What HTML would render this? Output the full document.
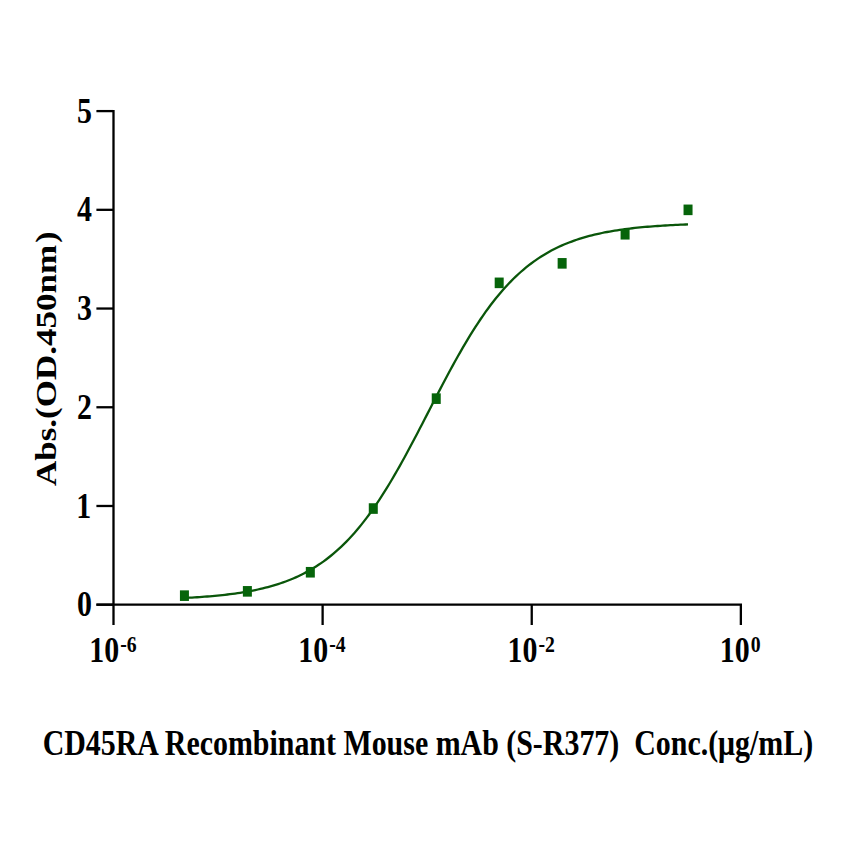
<!DOCTYPE html>
<html><head><meta charset="utf-8"><title>ELISA curve</title>
<style>
html,body{margin:0;padding:0;background:#fff;}
svg{display:block;}
text{font-family:"Liberation Serif","DejaVu Serif",serif;font-weight:bold;font-size:35.0px;fill:#000;}
</style></head><body>
<svg width="842" height="842" viewBox="0 0 842 842">
<rect width="842" height="842" fill="#fff"/>
<path d="M113.50,109.95 V625 M96.4,604.70 H742.01 M740.86,604.70 V625" stroke="#000" stroke-width="2.3" fill="none"/>
<path d="M96.4,604.70 H113.50" stroke="#000" stroke-width="2.3"/>
<path d="M96.4,505.98 H113.50" stroke="#000" stroke-width="2.3"/>
<path d="M96.4,407.26 H113.50" stroke="#000" stroke-width="2.3"/>
<path d="M96.4,308.54 H113.50" stroke="#000" stroke-width="2.3"/>
<path d="M96.4,209.82 H113.50" stroke="#000" stroke-width="2.3"/>
<path d="M96.4,111.10 H113.50" stroke="#000" stroke-width="2.3"/>
<path d="M322.62,604.70 V625" stroke="#000" stroke-width="2.3"/>
<path d="M531.74,604.70 V625" stroke="#000" stroke-width="2.3"/>
<text transform="translate(92.0,616.30) scale(0.855,1)" text-anchor="end">0</text>
<text transform="translate(91.2,517.58) scale(0.855,1)" text-anchor="end">1</text>
<text transform="translate(92.0,418.86) scale(0.855,1)" text-anchor="end">2</text>
<text transform="translate(92.0,320.14) scale(0.855,1)" text-anchor="end">3</text>
<text transform="translate(92.0,221.42) scale(0.855,1)" text-anchor="end">4</text>
<text transform="translate(92.0,122.70) scale(0.855,1)" text-anchor="end">5</text>
<text transform="translate(112.90,662) scale(0.855,1)" text-anchor="middle">10<tspan font-size="23.1" dx="1.2" dy="-10">-6</tspan></text>
<text transform="translate(322.02,662) scale(0.855,1)" text-anchor="middle">10<tspan font-size="23.1" dx="1.2" dy="-10">-4</tspan></text>
<text transform="translate(531.14,662) scale(0.855,1)" text-anchor="middle">10<tspan font-size="23.1" dx="1.2" dy="-10">-2</tspan></text>
<text transform="translate(740.26,662) scale(0.855,1)" text-anchor="middle">10<tspan font-size="23.1" dx="1.2" dy="-10">0</tspan></text>
<text transform="translate(56,486) rotate(-90) scale(1.0,0.855)">Abs.(OD.450nm<tspan dx="2">)</tspan></text>
<text transform="translate(427.9,755.2) scale(0.855,1)" text-anchor="middle" xml:space="preserve">CD45RA Recombinant Mouse mAb (S-R377)  Conc.(μg/mL)</text>
<path d="M184.43,597.97 L186.96,597.84 L189.49,597.70 L192.02,597.56 L194.55,597.40 L197.08,597.24 L199.61,597.07 L202.15,596.89 L204.68,596.70 L207.21,596.51 L209.74,596.30 L212.27,596.08 L214.80,595.85 L217.33,595.61 L219.86,595.35 L222.39,595.08 L224.92,594.80 L227.45,594.50 L229.98,594.19 L232.51,593.86 L235.04,593.52 L237.58,593.15 L240.11,592.77 L242.64,592.37 L245.17,591.95 L247.70,591.51 L250.23,591.04 L252.76,590.55 L255.29,590.04 L257.82,589.50 L260.35,588.93 L262.88,588.33 L265.41,587.71 L267.94,587.05 L270.47,586.36 L273.01,585.64 L275.54,584.88 L278.07,584.09 L280.60,583.25 L283.13,582.38 L285.66,581.46 L288.19,580.50 L290.72,579.49 L293.25,578.44 L295.78,577.33 L298.31,576.18 L300.84,574.97 L303.37,573.70 L305.90,572.38 L308.44,571.00 L310.97,569.56 L313.50,568.05 L316.03,566.47 L318.56,564.83 L321.09,563.11 L323.62,561.33 L326.15,559.46 L328.68,557.52 L331.21,555.50 L333.74,553.40 L336.27,551.21 L338.80,548.94 L341.33,546.58 L343.87,544.13 L346.40,541.59 L348.93,538.96 L351.46,536.24 L353.99,533.42 L356.52,530.50 L359.05,527.48 L361.58,524.37 L364.11,521.16 L366.64,517.85 L369.17,514.44 L371.70,510.94 L374.23,507.33 L376.76,503.63 L379.29,499.84 L381.83,495.95 L384.36,491.97 L386.89,487.90 L389.42,483.75 L391.95,479.51 L394.48,475.19 L397.01,470.80 L399.54,466.33 L402.07,461.79 L404.60,457.20 L407.13,452.54 L409.66,447.83 L412.19,443.07 L414.72,438.27 L417.26,433.44 L419.79,428.58 L422.32,423.69 L424.85,418.79 L427.38,413.88 L429.91,408.96 L432.44,404.05 L434.97,399.15 L437.50,394.26 L440.03,389.40 L442.56,384.57 L445.09,379.77 L447.62,375.02 L450.15,370.31 L452.69,365.66 L455.22,361.06 L457.75,356.53 L460.28,352.06 L462.81,347.67 L465.34,343.36 L467.87,339.12 L470.40,334.97 L472.93,330.91 L475.46,326.93 L477.99,323.05 L480.52,319.26 L483.05,315.56 L485.58,311.96 L488.12,308.46 L490.65,305.06 L493.18,301.75 L495.71,298.55 L498.24,295.44 L500.77,292.43 L503.30,289.51 L505.83,286.70 L508.36,283.98 L510.89,281.35 L513.42,278.81 L515.95,276.37 L518.48,274.01 L521.01,271.74 L523.55,269.56 L526.08,267.46 L528.61,265.45 L531.14,263.51 L533.67,261.65 L536.20,259.87 L538.73,258.15 L541.26,256.51 L543.79,254.94 L546.32,253.44 L548.85,251.99 L551.38,250.61 L553.91,249.29 L556.44,248.03 L558.98,246.83 L561.51,245.67 L564.04,244.57 L566.57,243.52 L569.10,242.51 L571.63,241.56 L574.16,240.64 L576.69,239.77 L579.22,238.93 L581.75,238.14 L584.28,237.38 L586.81,236.66 L589.34,235.98 L591.87,235.32 L594.41,234.70 L596.94,234.10 L599.47,233.54 L602.00,233.00 L604.53,232.48 L607.06,232.00 L609.59,231.53 L612.12,231.09 L614.65,230.67 L617.18,230.27 L619.71,229.89 L622.24,229.52 L624.77,229.18 L627.30,228.85 L629.84,228.54 L632.37,228.24 L634.90,227.96 L637.43,227.69 L639.96,227.44 L642.49,227.20 L645.02,226.97 L647.55,226.75 L650.08,226.54 L652.61,226.34 L655.14,226.16 L657.67,225.98 L660.20,225.81 L662.73,225.65 L665.27,225.49 L667.80,225.35 L670.33,225.21 L672.86,225.08 L675.39,224.95 L677.92,224.84 L680.45,224.72 L682.98,224.62 L685.51,224.52 L688.04,224.42" stroke="#0a560a" stroke-width="2.3" fill="none"/>
<rect x="179.93" y="590.35" width="9.0" height="10.6" fill="#06640a"/>
<rect x="242.88" y="586.05" width="9.0" height="10.6" fill="#06640a"/>
<rect x="305.83" y="566.95" width="9.0" height="10.6" fill="#06640a"/>
<rect x="368.78" y="503.25" width="9.0" height="10.6" fill="#06640a"/>
<rect x="431.74" y="393.35" width="9.0" height="10.6" fill="#06640a"/>
<rect x="494.69" y="277.55" width="9.0" height="10.6" fill="#06640a"/>
<rect x="557.64" y="258.05" width="9.0" height="10.6" fill="#06640a"/>
<rect x="620.59" y="228.95" width="9.0" height="10.6" fill="#06640a"/>
<rect x="683.54" y="204.55" width="9.0" height="10.6" fill="#06640a"/>
</svg>
</body></html>
